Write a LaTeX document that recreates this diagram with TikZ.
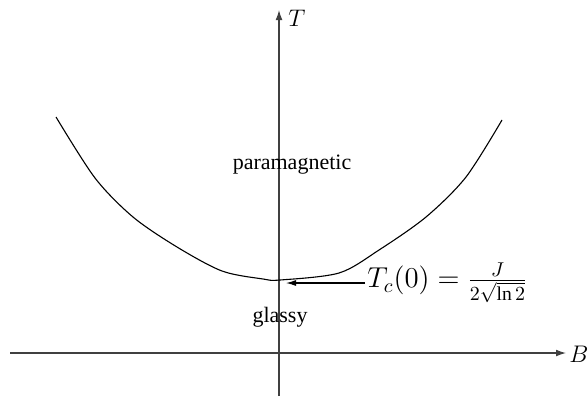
\documentclass[tikz,border=0pt]{standalone}
\usepackage{amsmath}
\usepackage{fontspec}
\setmainfont{Liberation Serif}
\usetikzlibrary{arrows.meta}

\begin{document}
\begin{tikzpicture}[x=0.5pt,y=-0.5pt,
    axis/.style={draw=black!75, line width=0.55pt, -{Latex[length=5pt,width=3.4pt]}},
    phase/.style={font=\fontsize{11}{13}\selectfont}]
    \useasboundingbox (0,0) rectangle (587,402);
    % axes
    \coordinate (bleft) at (10,353);
    \coordinate (bright) at (566,353);
    \coordinate (tbottom) at (279,396);
    \coordinate (ttop) at (279,10);
    \draw[axis] (bleft) -- (bright);
    \draw[axis] (tbottom) -- (ttop);
    \node (blabel) at (579,354) {\large $B$};
    \node (tlabel) at (297,18) {\large $T$};
    % transition line
    \draw[line width=0.55pt] plot[smooth, tension=0.5] coordinates {(56,117) (95,178) (133,217) (177,247) (222,271) (263,279) (280,280) (339,273) (379,250) (426,217) (466,177) (502,120)};
    \coordinate (tczero) at (286,283);
    \node[anchor=west, inner sep=1pt, font=\fontsize{14}{16}\selectfont] (tcval) at (365,283) {$T_c(0) = \frac{J}{2\sqrt{\ln 2}}$};
    \draw[line width=0.55pt, -{Latex[length=5pt,width=3pt]}] (tcval.west) -- (tczero);
    \node[phase] (para) at (292,165) {paramagnetic};
    \node[phase] (glassy) at (280,317) {glassy};
\end{tikzpicture}
\end{document}
